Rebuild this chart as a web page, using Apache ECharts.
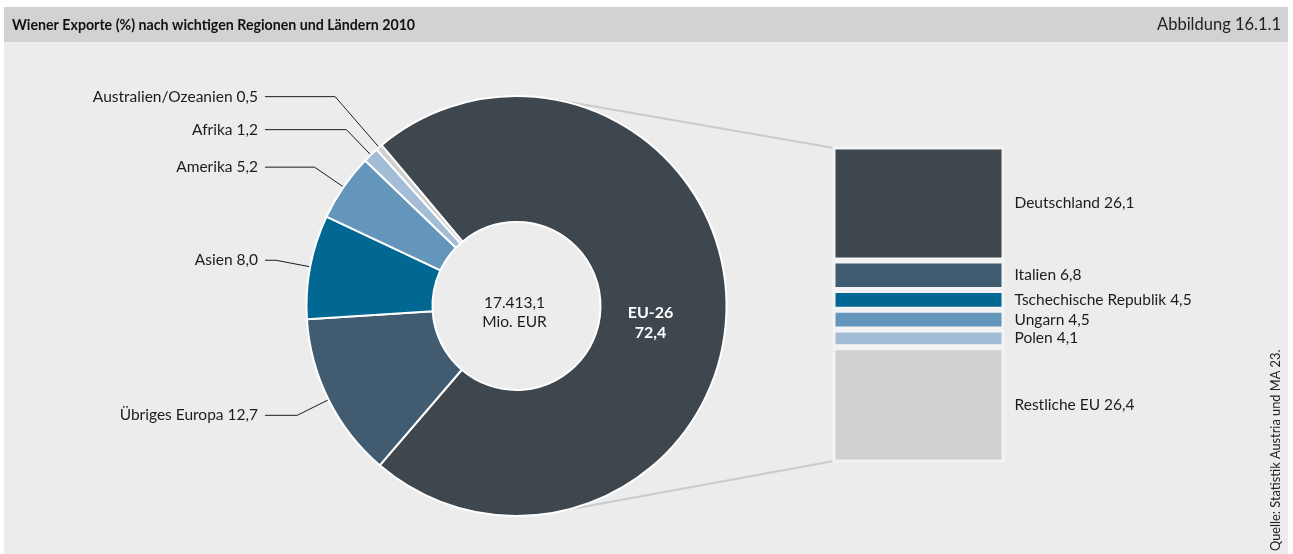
<!DOCTYPE html>
<html>
<head>
<meta charset="utf-8">
<script src="https://cdn.jsdelivr.net/npm/echarts@6/dist/echarts.min.js"></script>
<style>
  html, body { margin: 0; padding: 0; background: #ffffff; }
  #chart { width: 1293px; height: 554px; }
</style>
</head>
<body>
<div id="chart"></div>
<script>
// Wiener Exporte 2010 nach Regionen (Anteile in %)
const regionNames = ['EU-26', 'Übriges Europa', 'Asien', 'Amerika', 'Afrika', 'Australien/Ozeanien'];
const regionShares = [72.4, 12.7, 8.0, 5.2, 1.2, 0.5];
const regionColors = ['#3e464e', '#415c71', '#006893', '#6495bb', '#a4bdd6', '#cfd1d0'];

// Aufschlüsselung der EU-26
const euCountries = ['Deutschland', 'Italien', 'Tschechische Republik', 'Ungarn', 'Polen', 'Restliche EU'];
const euShares = [26.1, 6.8, 4.5, 4.5, 4.1, 26.4];
const euColors = ['#3e464e', '#415c71', '#006893', '#6495bb', '#a4bdd6', '#cfd1d0'];

const totalExportLines = ['17.413,1', 'Mio. EUR'];
const titleText = 'Wiener Exporte (%) nach wichtigen Regionen und Ländern 2010';
const figureText = 'Abbildung 16.1.1';
const sourceText = 'Quelle: Statistik Austria und MA 23.';

const FONT = 'Lato, "Noto Sans", sans-serif';
const TEXT = '#1c1c1c';
const LABEL_SIZE = 15.5;
const fmt = v => v.toFixed(1).replace('.', ',');

// layout
const pieCx = 516.5, pieCy = 306, pieR0 = 84, pieR = 210, pieStart = 130;
const barLeft = 832.5, barTop = 146.5, barW = 172, barH = 316;
const lineLen = 35, labelGap = 33, lineEndX = 265, labelRightX = 258;

// Outside labels of the pie: start at each slice's mid-angle, stacked upward
// with a minimum spacing, all right-aligned next to a common line end.
function leftLabelLayout() {
  const total = regionShares.reduce((a, b) => a + b, 0);
  let angle = pieStart;
  const items = [];
  regionShares.forEach((v, i) => {
    const span = v / total * 360;
    const mid = (angle - span / 2) * Math.PI / 180;
    angle -= span;
    if (i === 0) return;
    const dx = Math.cos(mid), dy = -Math.sin(mid);
    const touch = [pieCx + pieR * dx, pieCy + pieR * dy];
    items.push({ i, dx, dy, touch, y: pieCy + (pieR + lineLen) * dy });
  });
  items.sort((p, q) => q.y - p.y);
  for (let k = 1; k < items.length; k++) {
    items[k].y = Math.min(items[k].y, items[k - 1].y - labelGap);
  }
  const out = {};
  items.forEach(it => {
    let t = lineLen;
    if (Math.abs(it.dy) > 0.3) t = (it.y - it.touch[1]) / it.dy;
    t = Math.max(lineLen * 0.6, Math.min(t, lineLen * 3));
    out[it.i] = {
      x: labelRightX,
      y: it.y,
      align: 'right',
      verticalAlign: 'middle',
      labelLinePoints: [it.touch, [it.touch[0] + it.dx * t, it.y], [lineEndX, it.y]]
    };
  });
  return out;
}
const pieLabelPos = leftLabelLayout();

const chart = echarts.init(document.getElementById('chart'), null, { renderer: 'canvas' });

const euTotal = euShares.reduce((a, b) => a + b, 0);

const pieData = regionNames.map((n, i) => {
  const item = { name: n, value: regionShares[i], itemStyle: { color: regionColors[i] } };
  if (i === 0) {
    item.label = {
      position: 'inside',
      formatter: p => p.name + '\n' + fmt(p.value),
      color: '#ffffff',
      fontWeight: 'bold',
      fontSize: 16,
      lineHeight: 20,
      fontFamily: FONT
    };
    item.labelLine = { show: false };
  }
  return item;
});

const barSeries = euCountries.map((n, i) => ({
  type: 'bar',
  name: n,
  stack: 'eu',
  barWidth: '100%',
  data: [euShares[i]],
  itemStyle: { color: euColors[i], borderColor: '#f3f3f3', borderWidth: 3 },
  label: {
    show: true,
    position: 'right',
    distance: 10,
    formatter: () => n + ' ' + fmt(euShares[i]),
    color: TEXT,
    fontSize: LABEL_SIZE,
    fontFamily: FONT
  },
  emphasis: { disabled: true },
  silent: true
}));

// connector lines from the EU slice to the breakdown column
const topAngle = 82 * Math.PI / 180, botAngle = -76 * Math.PI / 180;
const connTop = [pieCx + pieR * Math.cos(topAngle), pieCy - pieR * Math.sin(topAngle)];
const connBot = [pieCx + pieR * Math.cos(botAngle), pieCy - pieR * Math.sin(botAngle)];
const barX0 = barLeft + 1.5, barY0 = barTop + 1.5, barY1 = barTop + barH - 1.5;

chart.setOption({
  animation: false,
  backgroundColor: '#ffffff',
  graphic: [
    { type: 'rect', z: -10, shape: { x: 4, y: 7, width: 1284, height: 547 }, style: { fill: '#ececec' } },
    { type: 'rect', z: -9, shape: { x: 4, y: 7, width: 1284, height: 35 }, style: { fill: '#d1d2d2' } },
    { type: 'text', z: 5, x: 12, y: 25, style: { text: titleText, fill: '#111', font: 'bold 14.2px ' + FONT, textVerticalAlign: 'middle', textAlign: 'left' } },
    { type: 'text', z: 5, x: 1281, y: 25, style: { text: figureText, fill: '#222', font: '16.5px ' + FONT, textVerticalAlign: 'middle', textAlign: 'right' } },
    { type: 'text', z: 5, x: 1276, y: 551, rotation: Math.PI / 2, style: { text: sourceText, fill: '#222', font: '12.8px ' + FONT, textVerticalAlign: 'middle', textAlign: 'left' } },
    { type: 'text', z: 5, x: pieCx - 2, y: pieCy + 6, style: { text: totalExportLines.join('\n'), fill: TEXT, font: LABEL_SIZE + 'px ' + FONT, lineHeight: 19, textVerticalAlign: 'middle', textAlign: 'center' } },
    { type: 'line', z: 1, shape: { x1: connTop[0], y1: connTop[1], x2: barX0, y2: barY0 }, style: { stroke: '#c9cacb', lineWidth: 2 } },
    { type: 'line', z: 1, shape: { x1: connBot[0], y1: connBot[1], x2: barX0, y2: barY1 }, style: { stroke: '#c9cacb', lineWidth: 2 } }
  ],
  grid: { left: barLeft, top: barTop, width: barW, height: barH, containLabel: false },
  xAxis: { type: 'category', data: ['EU-26'], show: false },
  yAxis: { type: 'value', min: 0, max: euTotal, inverse: true, show: false },
  series: [
    {
      type: 'pie',
      center: [pieCx, pieCy],
      radius: [pieR0, pieR],
      startAngle: pieStart,
      clockwise: true,
      avoidLabelOverlap: false,
      silent: true,
      z: 3,
      itemStyle: { borderColor: '#ffffff', borderWidth: 2 },
      label: {
        show: true,
        position: 'outside',
        formatter: p => p.name + ' ' + fmt(p.value),
        color: TEXT,
        fontSize: LABEL_SIZE,
        fontFamily: FONT
      },
      labelLine: { show: true, length: lineLen, length2: 20, lineStyle: { color: '#1c1c1c', width: 1 } },
      labelLayout: p => (p.dataIndex === 0 ? { dx: -16, dy: 16 } : pieLabelPos[p.dataIndex]),
      data: pieData
    },
    ...barSeries
  ]
});
</script>
</body>
</html>
